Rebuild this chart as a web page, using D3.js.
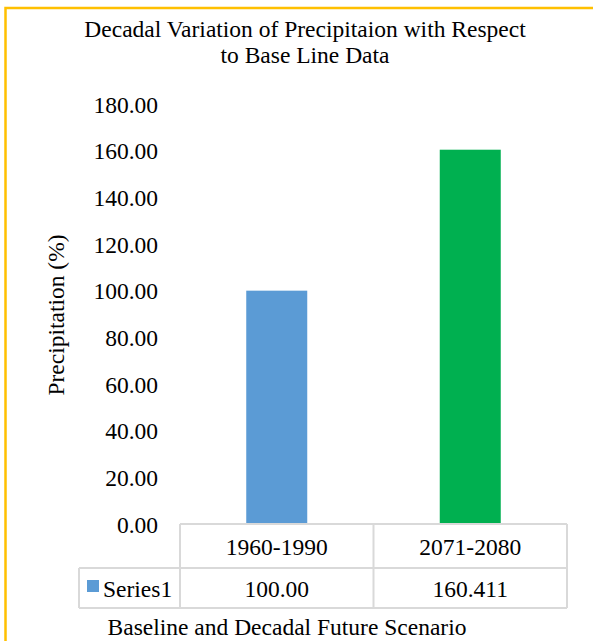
<!DOCTYPE html>
<html>
<head>
<meta charset="utf-8">
<script src="https://cdn.jsdelivr.net/npm/d3@7"></script>
<style>
  body { margin: 0; background: #fff; }
  text { font-family: "Liberation Serif", "Times New Roman", serif; fill: #000; }
</style>
</head>
<body>
<svg id="grafico" width="593" height="641"></svg>
<script>
// data
var categories = ["1960-1990", "2071-2080"];
var values = [100.00, 160.411];
var valueLabels = ["100.00", "160.411"];
var barColors = ["#5B9BD5", "#00B050"];
var seriesName = "Series1";
var yTicks = [0, 20, 40, 60, 80, 100, 120, 140, 160, 180];

// dimensions
var svg = d3.select("svg#grafico"),
    width = +svg.attr("width"),
    height = +svg.attr("height");

var plotLeft = 180, plotRight = 567, plotTop = 104, plotBottom = 524;
var rowH1 = 44, rowH2 = 40, tableLeft = 79;
var fs = "23.5px";

// frame
svg.append("rect")
  .attr("x", 5.5).attr("y", 8)
  .attr("width", width + 10).attr("height", height + 10)
  .attr("fill", "none")
  .attr("stroke", "#FFC000")
  .attr("stroke-width", 2.5);

// scales
var x = d3.scaleBand().domain(categories).range([plotLeft, plotRight]);
var y = d3.scaleLinear().domain([0, 180]).range([plotBottom, plotTop]);
var barW = 61;

// title
var title = svg.append("text")
  .attr("text-anchor", "middle")
  .style("font-size", fs);
title.append("tspan").attr("x", 305).attr("y", 37).text("Decadal Variation of Precipitaion with Respect");
title.append("tspan").attr("x", 305).attr("y", 63).text("to Base Line Data");

// y axis (labels only)
var yAxis = d3.axisLeft(y).tickValues(yTicks).tickFormat(d3.format(".2f")).tickSize(0).tickPadding(0);
var gy = svg.append("g")
  .attr("transform", "translate(158,0)")
  .call(yAxis);
gy.select(".domain").remove();
gy.selectAll("text")
  .style("font-size", fs)
  .style("font-family", "'Liberation Serif', serif")
  .attr("dy", "0.35em");

// y axis title
svg.append("text")
  .attr("transform", "translate(64,315) rotate(-90)")
  .attr("text-anchor", "middle")
  .style("font-size", fs)
  .text("Precipitation (%)");

// bars
svg.selectAll(".bar")
  .data(values)
  .enter().append("rect")
  .attr("class", "bar")
  .attr("x", function(d, i) { return x(categories[i]) + x.bandwidth() / 2 - barW / 2; })
  .attr("width", barW)
  .attr("y", function(d) { return y(d); })
  .attr("height", function(d) { return y(0) - y(d); })
  .attr("fill", function(d, i) { return barColors[i]; });

// data table
var grid = svg.append("g")
  .attr("stroke", "#D9D9D9")
  .attr("stroke-width", 2)
  .attr("fill", "none");
var r1 = plotBottom, r2 = plotBottom + rowH1, r3 = plotBottom + rowH1 + rowH2;
grid.append("line").attr("x1", plotLeft).attr("x2", plotRight).attr("y1", r1).attr("y2", r1);
grid.append("line").attr("x1", tableLeft).attr("x2", plotRight).attr("y1", r2).attr("y2", r2);
grid.append("line").attr("x1", tableLeft).attr("x2", plotRight).attr("y1", r3).attr("y2", r3);
grid.append("line").attr("x1", tableLeft).attr("x2", tableLeft).attr("y1", r2).attr("y2", r3);
[plotLeft, x(categories[1]), plotRight].forEach(function(xx) {
  grid.append("line").attr("x1", xx).attr("x2", xx).attr("y1", r1).attr("y2", r3);
});

// category labels
svg.selectAll(".cat")
  .data(categories)
  .enter().append("text")
  .attr("class", "cat")
  .attr("x", function(d) { return x(d) + x.bandwidth() / 2; })
  .attr("y", r1 + 31)
  .attr("text-anchor", "middle")
  .style("font-size", fs)
  .text(function(d) { return d; });

// value labels
svg.selectAll(".val")
  .data(valueLabels)
  .enter().append("text")
  .attr("class", "val")
  .attr("x", function(d, i) { return x(categories[i]) + x.bandwidth() / 2; })
  .attr("y", r2 + 29)
  .attr("text-anchor", "middle")
  .style("font-size", fs)
  .text(function(d) { return d; });

// legend key
svg.append("rect")
  .attr("x", 87).attr("y", r2 + 12)
  .attr("width", 12).attr("height", 12)
  .attr("fill", barColors[0]);
svg.append("text")
  .attr("x", 103).attr("y", r2 + 29)
  .style("font-size", fs)
  .text(seriesName);

// x axis title
svg.append("text")
  .attr("x", 287).attr("y", 635)
  .attr("text-anchor", "middle")
  .style("font-size", fs)
  .text("Baseline and Decadal Future Scenario");
</script>
</body>
</html>
